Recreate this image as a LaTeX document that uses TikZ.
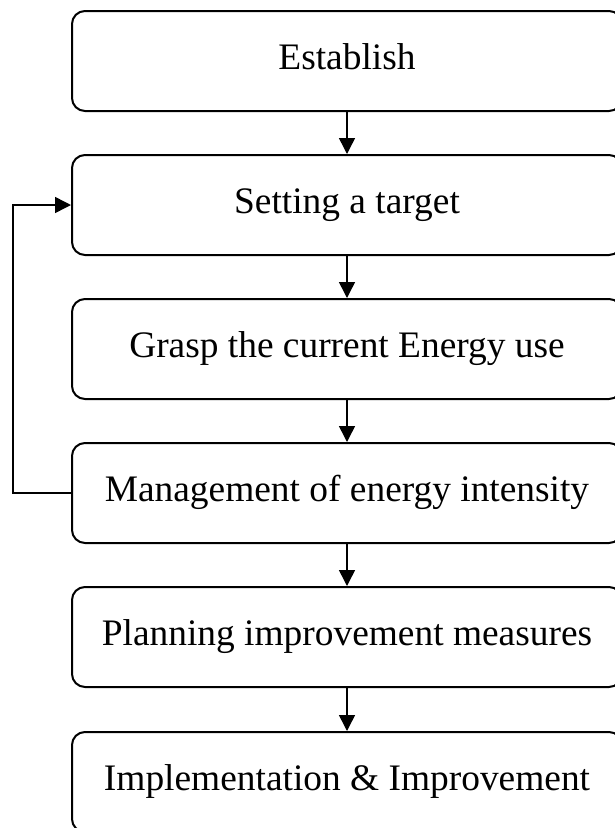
\documentclass[tikz,border=0pt]{standalone}
\usepackage{fontspec}
\setmainfont{Liberation Serif}
\usetikzlibrary{arrows.meta}
\tikzset{
  stepbox/.style={draw=black, line width=2pt, rounded corners=13pt,
    minimum width=550pt, minimum height=100pt, inner sep=0pt,
    text height=25pt, text depth=8pt,
    font=\fontsize{37.4}{44}\selectfont},
  flow/.style={line width=1.5pt, -{Triangle[width=16pt,length=16pt]}}
}
\begin{document}
\begin{tikzpicture}[x=1pt,y=-1pt]
\useasboundingbox (0,0) rectangle (615,828);
\node[stepbox] (b1) at (347,61)  {Establish};
\node[stepbox] (b2) at (347,205) {Setting a target};
\node[stepbox] (b3) at (347,349) {Grasp the current Energy use};
\node[stepbox] (b4) at (347,493) {Management of energy intensity};
\node[stepbox] (b5) at (347,637) {Planning improvement measures};
\node[stepbox] (b6) at (347,782) {Implementation \& Improvement};
\draw[flow] (b1.south) -- (b2.north);
\draw[flow] (b2.south) -- (b3.north);
\draw[flow] (b3.south) -- (b4.north);
\draw[flow] (b4.south) -- (b5.north);
\draw[flow] (b5.south) -- (b6.north);
\coordinate (fb) at (13,0);
\draw[flow] (b4.west) -- (b4.west -| fb) -- (b2.west -| fb) -- (b2.west);
\end{tikzpicture}
\end{document}
